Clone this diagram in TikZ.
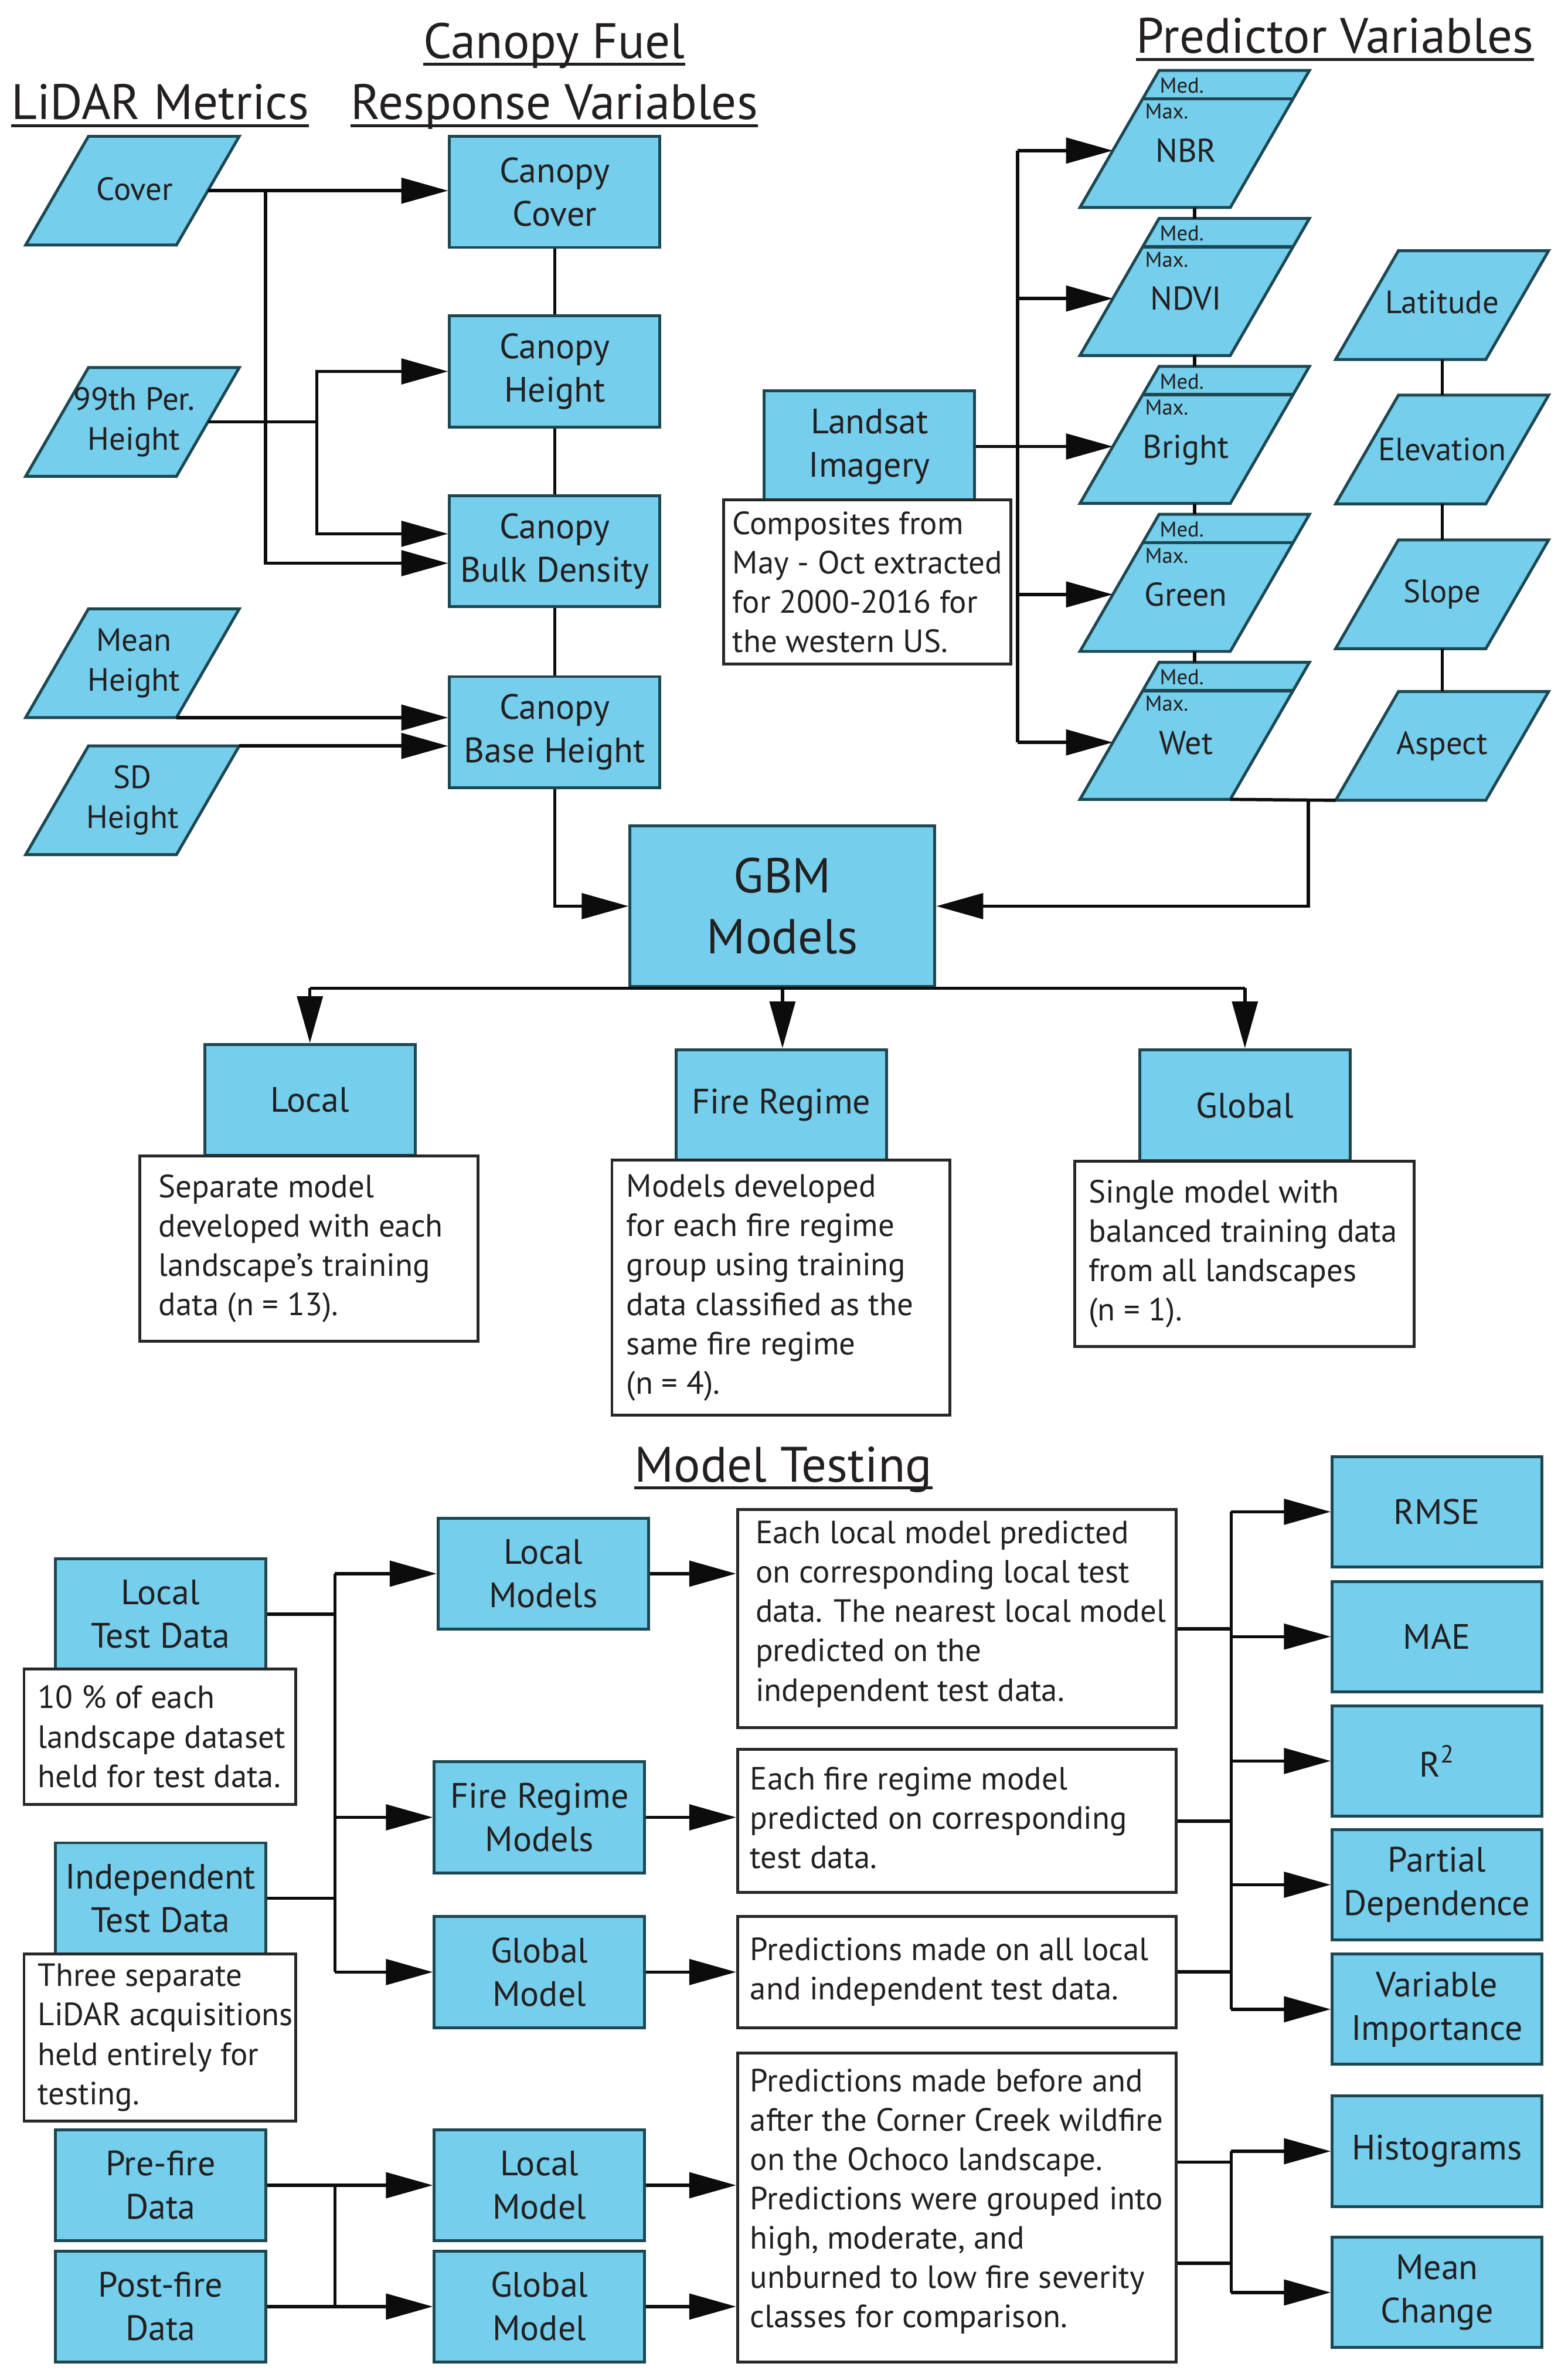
\documentclass[tikz,border=0pt]{standalone}
\usepackage{fontspec}
\setmainfont{PT Sans}
\usetikzlibrary{arrows.meta,calc}
\definecolor{fillblue}{RGB}{117,206,235}
\definecolor{bordteal}{RGB}{29,72,82}
\definecolor{txtc}{RGB}{35,31,32}
\definecolor{descgray}{RGB}{40,40,40}
\definecolor{linec}{RGB}{12,12,12}
\newcommand\myboxf{\fontsize{23}{28.3}\selectfont}
\newcommand\mydescf{\fontsize{21}{25.7}\selectfont}
\newcommand\myheadf{\fontsize{32.5}{38}\selectfont}
\newcommand\mygbmf{\fontsize{32}{40}\selectfont}
\newcommand\myparaf{\fontsize{21}{26}\selectfont}
\newcommand\mysmallf{\fontsize{14}{16}\selectfont}
\newcommand\mylabf{\fontsize{21.5}{25}\selectfont}
% parallelogram: name, cx, cy, height, side length
\newcommand\mypara[5]{%
  \coordinate (#1) at (#2,#3);
  \coordinate (#1-tl) at ($(#1)+({-(#5)/2+(#4)*0.288675},{-(#4)/2})$);
  \coordinate (#1-tr) at ($(#1)+({(#5)/2+(#4)*0.288675},{-(#4)/2})$);
  \coordinate (#1-br) at ($(#1)+({(#5)/2-(#4)*0.288675},{(#4)/2})$);
  \coordinate (#1-bl) at ($(#1)+({-(#5)/2-(#4)*0.288675},{(#4)/2})$);
  \coordinate (#1-r) at ($(#1-tr)!0.5!(#1-br)$);
  \filldraw[parashape] (#1-tl) -- (#1-tr) -- (#1-br) -- (#1-bl) -- cycle;
}
\begin{document}
\begin{tikzpicture}[x=1pt,y=-1pt,
  box/.style={rectangle, draw=bordteal, fill=fillblue, line width=1.9pt, minimum width=137.4pt, minimum height=72.5pt, inner sep=0pt, align=center, font=\myboxf, text=txtc},
  dbox/.style={rectangle, draw=descgray, fill=white, line width=1.9pt, inner sep=0pt},
  dtext/.style={anchor=west, align=left, inner sep=0pt, font=\mydescf, text=txtc},
  parashape/.style={draw=bordteal, fill=fillblue, line width=1.9pt, line join=miter},
  ptext/.style={align=center, inner sep=0pt, font=\myparaf, text=txtc},
  conn/.style={draw=linec, line width=2.1pt},
  arr/.style={conn, -{Triangle[length=30.6pt,width=16.6pt]}},
  head/.style={anchor=base, inner sep=0pt, font=\myheadf, text=txtc},
  uline/.style={draw=txtc, line width=2pt},
  divl/.style={draw=bordteal, line width=2.2pt},
  smallt/.style={anchor=base west, inner sep=0pt, font=\mysmallf, text=txtc},
  labt/.style={anchor=base, inner sep=0pt, font=\mylabf, text=txtc}]
\useasboundingbox (0,0) rectangle (1024,1551.9);
\fill[white] (0,0) rectangle (1024,1551.9);

% ---------- headings
\node[head] (hlid) at (104.5,78) {LiDAR Metrics};
\node[head] (hcf) at (362,38) {Canopy Fuel};
\node[head] (hrv) at (362,78) {Response Variables};
\node[head] (hpv) at (871.8,34.8) {Predictor Variables};
\node[head] (hmt) at (511.5,967.5) {Model Testing};
\foreach \h in {hlid,hcf,hrv,hpv,hmt}
  \draw[uline] ($(\h.base west)+(0,4)$) -- ($(\h.base east)+(0,4)$);

% ---------- LiDAR metrics
\mypara{cover}{86.5}{124.5}{71}{98.5}
\node[ptext] (covert) at ($(cover)+(1.5,-1)$) {Cover};
\mypara{p99}{86.5}{275.5}{71}{98.5}
\node[ptext] (p99t) at ($(p99)+(1,0)$) {99th Per.\\Height};
\mypara{meanh}{86.5}{433}{71}{98.5}
\node[ptext] (meanht) at ($(meanh)+(1,0)$) {Mean\\Height};
\mypara{sdh}{86.5}{522.5}{71}{98.5}
\node[ptext] (sdht) at ($(sdh)+(0,0)$) {SD\\Height};

% ---------- response variables
\node[box] (ccov) at (362.3,125.3) {Canopy\\Cover};
\node[box] (chgt) at (362.3,242.5) {Canopy\\Height};
\node[box] (cbd) at (362.3,359.8) {Canopy\\Bulk Density};
\node[box] (cbh) at (362.3,478) {Canopy\\Base Height};

% ---------- predictors
\node[box] (landsat) at (567.8,291.5) {Landsat\\Imagery};
\node[dbox, minimum width=187.6pt, minimum height=107.4pt] (comp) at (566.5,380) {};
\node[dtext] (compt) at ($(comp.west)+(6.5,0)$) {Composites from\\May - Oct extracted\\for 2000-2016 for\\the western US.};
\coordinate (bus) at (664.6,0);
\foreach \n/\t/\lab in {nbr/46/NBR, ndvi/142.6/NDVI, bright/239.2/Bright, green/335.8/Green, wet/432.4/Wet}{
  \mypara{\n}{780.2}{\t+44.75}{89.5}{98.2}
  \draw[divl] ($(\n-tl)!0.2067!(\n-bl)$) -- ($(\n-tr)!0.2067!(\n-br)$);
  \node[smallt] (\n-med) at ($(\n-tl)+(0.3,14.6)$) {Med.};
  \node[smallt] (\n-max) at ($(\n-tl)+(-9.3,31.7)$) {Max.};
  \node[labt] (\n-t) at ($(\n)+(-5.7,15.15)$) {\lab};
  \coordinate (\n-in) at ($(\n-tl)!0.5844!(\n-bl)$);
}
\mypara{lat}{941.8}{199.2}{71}{98.1}
\node[ptext] (latt) at ($(lat)+(0,-2)$) {Latitude};
\mypara{elev}{941.8}{293.5}{71}{98.1}
\node[ptext] (elevt) at (elev) {Elevation};
\mypara{slope}{941.8}{388}{71}{98.1}
\node[ptext] (slopet) at (slope) {Slope};
\mypara{aspect}{941.8}{487}{71}{98.1}
\node[ptext] (aspectt) at (aspect) {Aspect};

% ---------- GBM and model types
\node[box, minimum width=199.1pt, minimum height=105.2pt, font=\mygbmf] (gbm) at (511,591.6) {GBM\\Models};
\node[box] (local) at (202.4,718.2) {Local};
\node[box] (fire) at (510.3,721.6) {Fire Regime};
\node[box] (global) at (813,721.6) {Global};
\node[dbox, minimum width=220.8pt, minimum height=120.8pt] (ldesc) at (201.8,815.2) {};
\node[dtext] (ldesct) at ($(ldesc.west)+(13,0)$) {Separate model\\developed with each\\landscape’s training\\data (n = 13).};
\node[dbox, minimum width=220.7pt, minimum height=166.5pt] (fdesc) at (510,840.75) {};
\node[dtext] (fdesct) at ($(fdesc.west)+(10.3,0)$) {Models developed\\for each fire regime\\group using training\\data classified as the\\same fire regime\\(n = 4).};
\node[dbox, minimum width=221.4pt, minimum height=120.7pt] (gdesc) at (812.7,818.6) {};
\node[dtext] (gdesct) at ($(gdesc.west)+(9.8,0)$) {Single model with\\balanced training data\\from all landscapes\\(n = 1).};

% ---------- model testing
\node[box] (ltd) at (104.8,1053.8) {Local\\Test Data};
\node[dbox, minimum width=177.3pt, minimum height=88.5pt] (pct) at (104.35,1133.8) {};
\node[dtext] (pctt) at ($(pct.west)+(9.8,0)$) {10 \% of each\\landscape dataset\\held for test data.};
\node[box] (itd) at (104.8,1239.4) {Independent\\Test Data};
\node[dbox, minimum width=177.3pt, minimum height=109pt] (three) at (104.35,1330.3) {};
\node[dtext] (threet) at ($(three.west)+(9.8,0)$) {Three separate\\LiDAR acquisitions\\held entirely for\\testing.};
\node[box] (pre) at (104.8,1426.7) {Pre-fire\\Data};
\node[box] (post) at (104.8,1505.9) {Post-fire\\Data};

\node[box] (lm) at (354.8,1027.4) {Local\\Models};
\node[box] (frm) at (352.3,1186.5) {Fire Regime\\Models};
\node[box] (gm) at (352.3,1287.5) {Global\\Model};
\node[box] (lm2) at (352.3,1426.7) {Local\\Model};
\node[box] (gm2) at (352.3,1505.9) {Global\\Model};

\node[dbox, minimum width=286.3pt, minimum height=142.2pt] (d1) at (624.85,1056.8) {};
\node[dtext] (d1t) at ($(d1.west)+(12.5,-3)$) {Each local model predicted\\on corresponding local test\\data. The nearest local model\\predicted on the\\independent test data.};
\node[dbox, minimum width=286.3pt, minimum height=93.4pt] (d2) at (624.85,1188.9) {};
\node[dtext] (d2t) at ($(d2.west)+(9,-2)$) {Each fire regime model\\predicted on corresponding\\test data.};
\node[dbox, minimum width=286.3pt, minimum height=72.7pt] (d3) at (624.85,1287.4) {};
\node[dtext] (d3t) at ($(d3.west)+(9,0)$) {Predictions made on all local\\and independent test data.};
\node[dbox, minimum width=286.3pt, minimum height=201.9pt] (d4) at (624.85,1441.25) {};
\node[dtext] (d4t) at ($(d4.west)+(9,-4)$) {Predictions made before and\\after the Corner Creek wildfire\\on the Ochoco landscape.\\Predictions were grouped into\\high, moderate, and\\unburned to low fire severity\\classes for comparison.};

\node[box, minimum width=136.8pt, minimum height=72pt] (rmse) at (938.4,987) {RMSE};
\node[box, minimum width=136.8pt, minimum height=72pt] (mae) at (938.4,1068.5) {MAE};
\node[box, minimum width=136.8pt, minimum height=72pt] (rsq) at (938.4,1149.7) {R\textsuperscript{2}};
\node[box, minimum width=136.8pt, minimum height=72pt] (pd) at (938.4,1230.5) {Partial\\Dependence};
\node[box, minimum width=136.8pt, minimum height=72pt] (vi) at (938.4,1311.8) {Variable\\Importance};
\node[box, minimum width=136.8pt, minimum height=72pt] (hist) at (938.4,1404.5) {Histograms};
\node[box, minimum width=136.8pt, minimum height=72pt] (mc) at (938.4,1496.7) {Mean\\Change};

% ---------- connectors: LiDAR -> responses
\draw[conn] (ccov.south) -- (chgt.north);
\draw[conn] (chgt.south) -- (cbd.north);
\draw[conn] (cbd.south) -- (cbh.north);
\coordinate (ja) at (173.5,124.5);
\coordinate (jb) at (207,275.5);
\draw[arr] (cover-r) -- (cover-r -| ccov.west);
\draw[arr] (ja) |- ($(cbd.west)+(0,7.9)$);
\draw[conn] (p99-r) -- (jb);
\draw[arr] (jb) |- (chgt.west);
\draw[arr] (jb) |- ($(cbd.west)+(0,-11.3)$);
\draw[arr] (meanh-br) -- (meanh-br -| cbh.west);
\draw[arr] (sdh-tr) -- (sdh-tr -| cbh.west);
\draw[arr] (cbh.south) |- (gbm.west);

% ---------- connectors: predictors
\draw[conn] (nbr |- nbr-bl) -- (ndvi |- ndvi-tl);
\draw[conn] (ndvi |- ndvi-bl) -- (bright |- bright-tl);
\draw[conn] (bright |- bright-bl) -- (green |- green-tl);
\draw[conn] (green |- green-bl) -- (wet |- wet-tl);
\draw[conn] (lat |- lat-bl) -- (elev |- elev-tl);
\draw[conn] (elev |- elev-bl) -- (slope |- slope-tl);
\draw[conn] (slope |- slope-bl) -- (aspect |- aspect-tl);
\draw[conn] (landsat.east) -- (landsat.east -| bus);
\draw[conn] (nbr-in -| bus) -- (wet-in -| bus);
\foreach \n in {nbr,ndvi,bright,green,wet}
  \draw[arr] (\n-in -| bus) -- (\n-in);
\draw[conn] (wet-br) -- (aspect-bl);
\coordinate (jw) at ($(wet-br)!0.74!(aspect-bl)$);
\draw[arr] (jw) |- (gbm.east);

% ---------- connectors: GBM -> model types
\draw[conn] (local.north |- gbm.south) -- (global.north |- gbm.south);
\draw[arr] (local.north |- gbm.south) -- (local.north);
\draw[arr] (gbm.south) -- (gbm.south |- fire.north);
\draw[arr] (global.north |- gbm.south) -- (global.north);

% ---------- connectors: model testing
\coordinate (bl) at (218.7,1027.4);
\draw[conn] (ltd.east) -- (ltd.east -| bl);
\draw[conn] (itd.east) -- (itd.east -| bl);
\draw[conn] (bl |- lm.west) -- (bl |- gm.west);
\draw[arr] (bl |- lm.west) -- (lm.west);
\draw[arr] (bl |- frm.west) -- (frm.west);
\draw[arr] (bl |- gm.west) -- (gm.west);
\draw[arr] (lm.east) -- (lm.east -| d1.west);
\draw[arr] (frm.east) -- (frm.east -| d2.west);
\draw[arr] (gm.east) -- (gm.east -| d3.west);
\coordinate (br) at (804,987);
\coordinate (d1o) at ($(d1.east)+(0,6.7)$);
\draw[conn] (d1o) -- (d1o -| br);
\draw[conn] (d2.east) -- (d2.east -| br);
\draw[conn] (d3.east) -- (d3.east -| br);
\draw[conn] (br |- rmse.west) -- (br |- vi.west);
\foreach \n in {rmse,mae,rsq,pd,vi}
  \draw[arr] (br |- \n.west) -- (\n.west);

\draw[arr] (pre.east) -- (lm2.west);
\draw[arr] (post.east) -- (gm2.west);
\draw[conn] (pre.east -| bl) -- (post.east -| bl);
\draw[arr] (lm2.east) -- (lm2.east -| d4.west);
\draw[arr] (gm2.east) -- (gm2.east -| d4.west);
\coordinate (d4a) at ($(d4.east)+(0,-29.75)$);
\coordinate (d4b) at ($(d4.east)+(0,36.35)$);
\draw[conn] (d4a) -- (d4a -| br);
\draw[conn] (d4b) -- (d4b -| br);
\draw[conn] (br |- hist.west) -- (br |- mc.west);
\draw[arr] (br |- hist.west) -- (hist.west);
\draw[arr] (br |- mc.west) -- (mc.west);
\end{tikzpicture}
\end{document}
